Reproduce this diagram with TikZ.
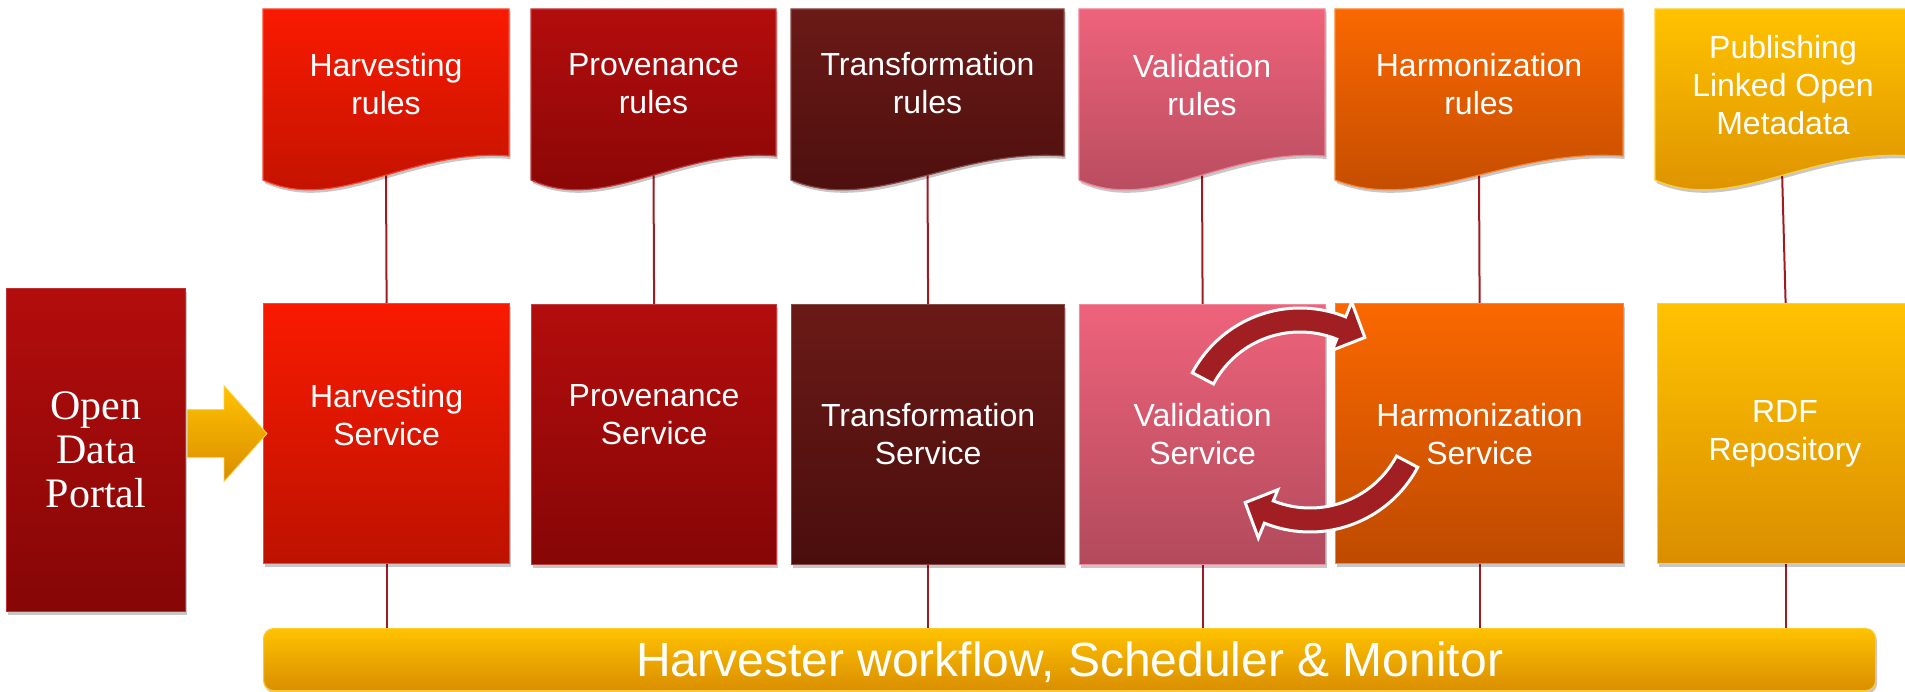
\documentclass[tikz,border=0pt]{standalone}
\usepackage{fontspec}
\setmainfont{Liberation Sans}
\newfontfamily\odpfont{Liberation Serif}
\usetikzlibrary{calc,shadows}
\pgfdeclarelayer{background}
\pgfsetlayers{background,main}

\definecolor{harvT}{HTML}{F91A00}
\definecolor{harvB}{HTML}{BD1200}
\definecolor{provT}{HTML}{B30D0D}
\definecolor{provB}{HTML}{860606}
\definecolor{tranT}{HTML}{6A1A17}
\definecolor{tranB}{HTML}{4A0E0D}
\definecolor{valT}{HTML}{EE637B}
\definecolor{valB}{HTML}{B24A5C}
\definecolor{harmT}{HTML}{FA6800}
\definecolor{harmB}{HTML}{BE4A00}
\definecolor{pubT}{HTML}{FFC200}
\definecolor{pubB}{HTML}{DA8E00}
\definecolor{linkc}{HTML}{9E1B22}
\definecolor{loopc}{HTML}{A11F22}

\newcommand\rulesdoc[4]{%
  \path[docst, top color=#3, bottom color=#4, draw=#3!80!white]
    (#1,9) -- (#2,9) -- (#2,156)
    .. controls ({#1+0.6*(#2-#1)},148) and ({#1+0.3*(#2-#1)},214) .. (#1,180) -- cycle;}

\begin{document}
\begin{tikzpicture}[x=1pt,y=-1pt,
  shadowed/.style={drop shadow={shadow xshift=1.5pt, shadow yshift=-3pt, opacity=0.22, fill=black}},
  docst/.style={shadowed, line width=1.2pt},
  svc/.style={shadowed, rectangle, anchor=north west, minimum height=260pt, inner sep=0pt, line width=1.2pt},
  txt/.style={text=white, align=center, font=\fontsize{32}{38}\selectfont},
  link/.style={draw=linkc, line width=2pt},
  looparrow/.style={fill=loopc, draw=white, line width=3pt, line join=miter},
]
\useasboundingbox (0,0) rectangle (1905,692);

% rule documents
\rulesdoc{263}{509}{harvT}{harvB}
\rulesdoc{531}{776}{provT}{provB}
\rulesdoc{791}{1064}{tranT}{tranB}
\rulesdoc{1079}{1325}{valT}{valB}
\rulesdoc{1335}{1623}{harmT}{harmB}
\rulesdoc{1655}{1911}{pubT}{pubB}

\node[txt] (hr) at (386,84) {Harvesting\\rules};
\node[txt] (pr) at (653.5,84) {Provenance\\rules};
\node[txt] (tr) at (927.5,83) {Transformation\\rules};
\node[txt] (vr) at (1202,85) {Validation\\rules};
\node[txt] (mr) at (1479,84) {Harmonization\\rules};
\node[txt] (lr) at (1783,85) {Publishing\\Linked Open\\Metadata};

\coordinate (hr-b) at (386,170);
\coordinate (pr-b) at (653.5,170);
\coordinate (tr-b) at (927.5,170);
\coordinate (vr-b) at (1202,170);
\coordinate (mr-b) at (1479,170);
\coordinate (lr-b) at (1782,170);

% open data portal
\node[shadowed, rectangle, anchor=north west, minimum width=179pt, minimum height=323pt,
      inner sep=0pt, top color=provT, bottom color=provB, draw=provT!85!white, line width=1.2pt,
      text=white, align=center, font=\odpfont\fontsize{42}{44}\selectfont]
      (odp) at (6,288) {Open\\Data\\Portal};

% services
\node[svc, minimum width=246pt, top color=harvT, bottom color=harvB, draw=harvT!80!white] (hs) at (263,303) {};
\node[svc, minimum width=245pt, top color=provT, bottom color=provB, draw=provT!80!white] (ps) at (531,304) {};
\node[svc, minimum width=273pt, top color=tranT, bottom color=tranB, draw=tranT!80!white] (ts) at (791,304) {};
\node[svc, minimum width=246pt, top color=valT, bottom color=valB, draw=valT!75!white] (vs) at (1079,304) {};
\node[svc, minimum width=288pt, top color=harmT, bottom color=harmB, draw=harmT!80!white] (ms) at (1335,303) {};
\node[svc, minimum width=256pt, top color=pubT, bottom color=pubB, draw=pubT!80!white] (rs) at (1657,303) {};

\node[txt] (hst) at (hs.center |- 0,415) {Harvesting\\Service};
\node[txt] (pst) at (ps.center |- 0,415) {Provenance\\Service};
\node[txt] (tst) at (ts.center |- 0,434) {Transformation\\Service};
\node[txt] (vst) at (vs.center |- 0,434) {Validation\\Service};
\node[txt] (mst) at (ms.center |- 0,434) {Harmonization\\Service};
\node[txt] (rst) at (1785,434) {RDF\\Repository};

% workflow bar
\node[shadowed, rectangle, rounded corners=10pt, anchor=north west, minimum width=1612pt,
      minimum height=62pt, inner sep=0pt, top color=pubT, bottom color=pubB,
      draw=pubT!85!white, line width=1.2pt, text=white,
      font=\fontsize{48}{50}\selectfont, text height=34pt, text depth=0pt]
      (bar) at (263,628) {Harvester workflow, Scheduler \& Monitor};

% connectors
\begin{pgfonlayer}{background}
\draw[link] (hr-b) -- (hs.north);
\draw[link] (pr-b) -- (ps.north);
\draw[link] (tr-b) -- (ts.north);
\draw[link] (vr-b) -- (vs.north);
\draw[link] (mr-b) -- (ms.north);
\draw[link] (lr-b) -- (rs.north);
\draw[link] (hs.south) -- (hs.south |- bar.north);
\draw[link] (ts.south) -- (ts.south |- bar.north);
\draw[link] (vs.south) -- (vs.south |- bar.north);
\draw[link] (ms.south) -- (ms.south |- bar.north);
\draw[link] (rs.south) -- (rs.south |- bar.north);
\end{pgfonlayer}

% yellow arrow from portal to harvesting service
\path[top color=pubT, bottom color=pubB, draw=pubT!70!white, line width=0.8pt]
  ($(odp.east |- hs.west)+(1,-24)$) -- ($(hs.west)+(-39,-24)$) -- ($(hs.west)+(-39,-48)$)
  -- ($(hs.west)+(4,0)$) -- ($(hs.west)+(-39,48)$) -- ($(hs.west)+(-39,24)$)
  -- ($(odp.east |- hs.west)+(1,24)$) -- cycle;

% cycle arrows between validation and harmonization
\filldraw[looparrow]
  plot[domain=0:1, samples=40] ({1300+122*cos(152-84*\x)},{430-122*sin(152-84*\x)})
  -- ({1300+138*cos(68)},{430-138*sin(68)})
  -- ({1300+113*cos(55)},{430-113*sin(55)})
  -- ({1300+86*cos(68)},{430-86*sin(68)})
  -- plot[domain=0:1, samples=40] ({1300+98*cos(68+84*\x)},{430-98*sin(68+84*\x)})
  -- cycle;
\filldraw[looparrow]
  plot[domain=0:1, samples=40] ({1310+122*cos(332-84*\x)},{410-122*sin(332-84*\x)})
  -- ({1310+138*cos(248)},{410-138*sin(248)})
  -- ({1310+113*cos(235)},{410-113*sin(235)})
  -- ({1310+86*cos(248)},{410-86*sin(248)})
  -- plot[domain=0:1, samples=40] ({1310+98*cos(248+84*\x)},{410-98*sin(248+84*\x)})
  -- cycle;
\end{tikzpicture}
\end{document}
